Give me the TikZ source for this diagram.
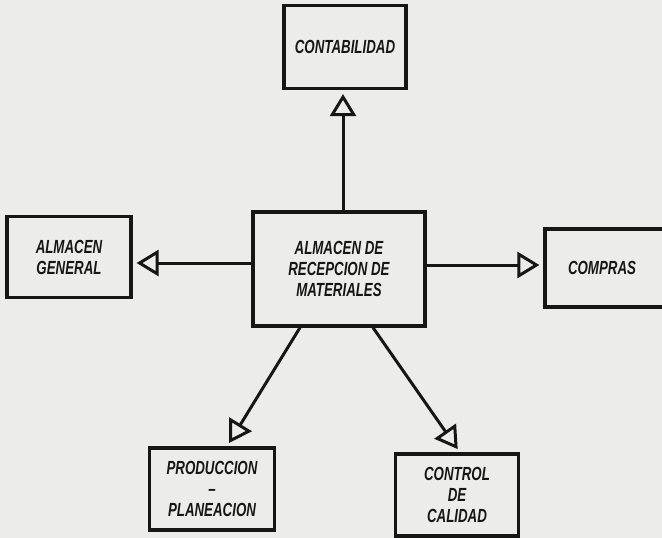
\documentclass[tikz,border=0pt]{standalone}
\usepackage{fontspec}
\setmainfont{Liberation Sans}
\newfontfamily\handfont[FakeStretch=0.7]{Liberation Sans}
\usepackage{tikz}
\usetikzlibrary{arrows.meta}

\definecolor{paper}{RGB}{236,236,234}
\definecolor{ink}{RGB}{22,22,22}

\begin{document}
\begin{tikzpicture}[x=1pt, y=-1pt,
  box/.style={draw=ink, line width=3.2pt, minimum width=#1, inner sep=0pt,
    font=\handfont\bfseries\itshape\fontsize{19}{21}\selectfont, text=ink, align=center},
  link/.style={draw=ink, line width=3pt,
    -{Triangle[open, length=22pt, width=26pt, line width=3pt]}, shorten >=4pt}]
  \fill[paper] (0,0) rectangle (662,538);
  \useasboundingbox (0,0) rectangle (662,538);
  % boxes
  \node[box=122pt, minimum height=83pt] (conta) at (345,47) {CONTABILIDAD};
  \node[box=124pt, minimum height=81pt] (almgen) at (69,257) {ALMACEN\\GENERAL};
  \node[box=172pt, minimum height=114pt] (central) at (339,269) {ALMACEN DE\\RECEPCION DE\\MATERIALES};
  \node[box=122pt, minimum height=78pt] (compras) at (606,268) {\hspace*{-8pt}COMPRAS};
  \node[box=125pt, minimum height=82pt] (prod) at (212,489) {PRODUCCION\\–\\PLANEACION};
  \node[box=123pt, minimum height=82pt] (control) at (457,495) {CONTROL\\DE\\CALIDAD};
  % connectors
  \coordinate (up) at ([xshift=4pt]central.north);
  \coordinate (lt) at ([yshift=6pt]central.west);
  \coordinate (rt) at ([yshift=4pt]central.east);
  \draw[link] (up) -- (up |- conta.south);
  \draw[link] (lt) -- (lt -| almgen.east);
  \draw[link] (rt) -- (rt -| compras.west);
  \draw[link] ([xshift=-39pt]central.south) -- ([xshift=15pt]prod.north);
  \draw[link] ([xshift=34pt]central.south) -- ([xshift=3pt]control.north);
\end{tikzpicture}
\end{document}
